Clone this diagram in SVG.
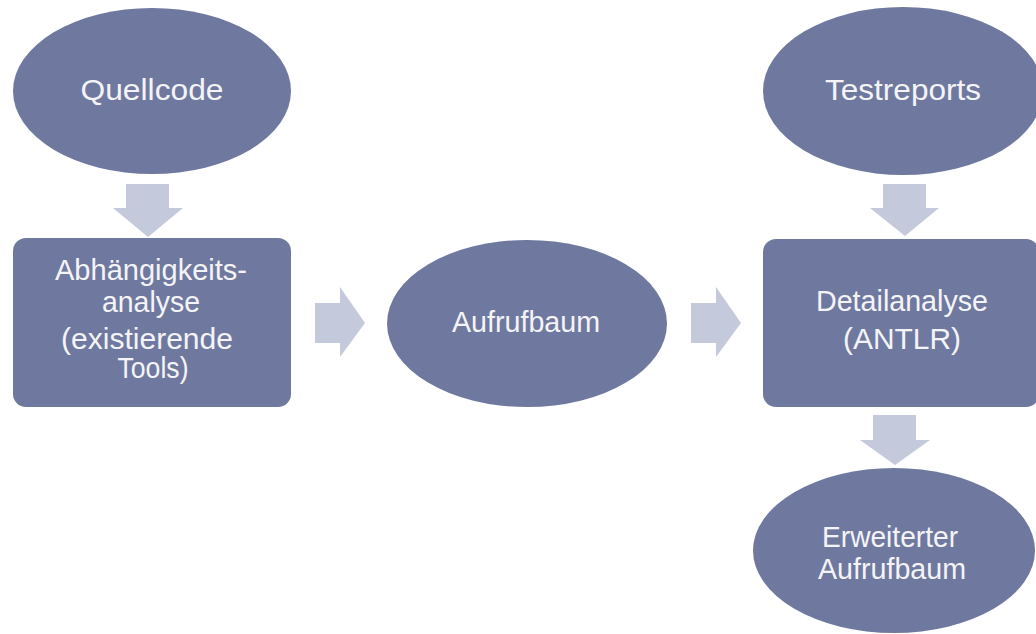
<svg xmlns="http://www.w3.org/2000/svg" width="1036" height="634" viewBox="0 0 1036 634">
<style>
.node{fill:#6f79a0;}
.arr{fill:#c5c9dc;}
text{font-family:"Liberation Sans",Arial,sans-serif;font-size:29px;fill:#f4f4f6;text-anchor:middle;}
</style>
<rect width="1036" height="634" fill="#ffffff"/>
<g id="connectors">
<polygon class="arr" points="126,184 169,184 169,208 183,208 148,237 113,208 126,208"/>
<polygon class="arr" points="883,184 926,184 926,208 939,208 905,236 870,208 883,208"/>
<polygon class="arr" points="873,415 916,415 916,440 930,440 895,465 860,440 873,440"/>
<polygon class="arr" points="315,303 340,303 340,287 365,323 340,357 340,343 315,343"/>
<polygon class="arr" points="691,303 716,303 716,287 741,323 716,357 716,343 691,343"/>
</g>
<g id="quellcode">
<ellipse class="node" cx="152" cy="91" rx="139" ry="83"/>
<text x="152" y="100" textLength="143" lengthAdjust="spacingAndGlyphs">Quellcode</text>
</g>
<g id="testreports">
<ellipse class="node" cx="903" cy="91" rx="140" ry="84"/>
<text x="903" y="100" textLength="156" lengthAdjust="spacingAndGlyphs">Testreports</text>
</g>
<g id="abhaengigkeitsanalyse">
<rect class="node" x="13" y="238" width="278" height="169" rx="13"/>
<text x="151" y="280" textLength="192" lengthAdjust="spacingAndGlyphs">Abhängigkeits-</text>
<text x="151" y="312" textLength="98" lengthAdjust="spacingAndGlyphs">analyse</text>
<text x="147" y="349" textLength="172" lengthAdjust="spacingAndGlyphs">(existierende</text>
<text x="153" y="378" textLength="71" lengthAdjust="spacingAndGlyphs">Tools)</text>
</g>
<g id="aufrufbaum">
<ellipse class="node" cx="527" cy="323.5" rx="140" ry="83.5"/>
<text x="526" y="332" textLength="148" lengthAdjust="spacingAndGlyphs">Aufrufbaum</text>
</g>
<g id="detailanalyse">
<rect class="node" x="763" y="239" width="276" height="168" rx="13"/>
<text x="902" y="311" textLength="172" lengthAdjust="spacingAndGlyphs">Detailanalyse</text>
<text x="902" y="349" textLength="118" lengthAdjust="spacingAndGlyphs">(ANTLR)</text>
</g>
<g id="erweiterter-aufrufbaum">
<ellipse class="node" cx="894" cy="550.5" rx="141" ry="82.5"/>
<text x="890" y="547" textLength="136" lengthAdjust="spacingAndGlyphs">Erweiterter</text>
<text x="892" y="579" textLength="148" lengthAdjust="spacingAndGlyphs">Aufrufbaum</text>
</g>
</svg>
